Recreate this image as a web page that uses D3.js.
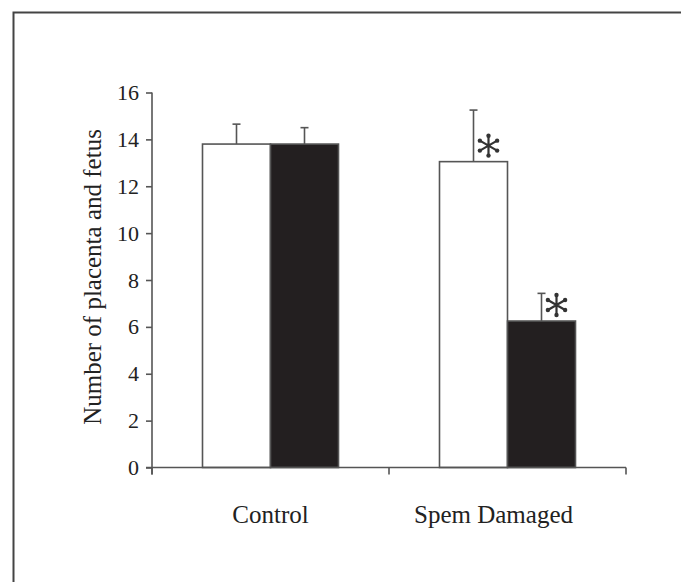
<!DOCTYPE html>
<html>
<head>
<meta charset="utf-8">
<script src="https://cdn.jsdelivr.net/npm/d3@7"></script>
<style>
  html, body { margin: 0; padding: 0; background: #fff; }
  svg { display: block; }
  .axis path, .axis line { stroke: #555; stroke-width: 1.6px; }
  .axis text { font-family: "Liberation Serif", serif; font-size: 22px; fill: #222; }
</style>
</head>
<body>
<div id="chart"></div>
<script>
const categories = ['Control', 'Spem Damaged'];
const seriesKeys = ['white', 'black'];
const whiteValues = [13.8, 13.05];
const whiteErrors = [0.85, 2.2];
const blackValues = [13.8, 6.25];
const blackErrors = [0.7, 1.18];
const significant = [[false, false], [true, true]];
const yTicks = [0, 2, 4, 6, 8, 10, 12, 14, 16];
const yLabel = 'Number of placenta and fetus';

const COLORS = { white: '#fff', black: '#231f20', stroke: '#555', frame: '#444' };

const width = 681, height = 582;
const svg = d3.select('#chart').append('svg')
    .attr('width', width)
    .attr('height', height);

// frame of the original figure panel
svg.append('path')
    .attr('d', 'M13.5,' + height + ' V12.5 H' + width)
    .attr('fill', 'none')
    .attr('stroke', COLORS.frame)
    .attr('stroke-width', 2);

const x = d3.scaleBand()
    .domain(categories)
    .range([152, 626])
    .padding(0);

const barW = 68;
const x1 = d3.scaleBand()
    .domain(seriesKeys)
    .range([x.bandwidth() / 2 - barW, x.bandwidth() / 2 + barW]);

const y = d3.scaleLinear()
    .domain([0, 16])
    .range([467.5, 92.5]);

const rows = categories.map((c, i) => ({
    category: c,
    bars: [
        { key: 'white', value: whiteValues[i], err: whiteErrors[i], sig: significant[i][0] },
        { key: 'black', value: blackValues[i], err: blackErrors[i], sig: significant[i][1] }
    ]
}));

// bars
const groups = svg.selectAll('.group')
    .data(rows)
    .enter()
    .append('g')
    .attr('class', 'group')
    .attr('transform', d => `translate(${x(d.category)},0)`);

const bar = groups.selectAll('.bar')
    .data(d => d.bars)
    .enter()
    .append('g')
    .attr('class', 'bar');

const cx = d => x1(d.key) + x1.bandwidth() / 2;

// error bars behind the bars
bar.append('line')
    .attr('x1', cx)
    .attr('x2', cx)
    .attr('y1', d => y(d.value))
    .attr('y2', d => y(d.value + d.err))
    .attr('stroke', COLORS.stroke)
    .attr('stroke-width', 1.6);

bar.append('line')
    .attr('x1', d => cx(d) - 4)
    .attr('x2', d => cx(d) + 4)
    .attr('y1', d => y(d.value + d.err))
    .attr('y2', d => y(d.value + d.err))
    .attr('stroke', COLORS.stroke)
    .attr('stroke-width', 1.6);

bar.append('rect')
    .attr('x', d => x1(d.key))
    .attr('y', d => y(d.value))
    .attr('width', x1.bandwidth())
    .attr('height', d => y(0) - y(d.value))
    .attr('fill', d => COLORS[d.key])
    .attr('stroke', COLORS.stroke)
    .attr('stroke-width', 1.6);

// significance asterisks
const starSize = 280;
const star = d3.symbol().type(d3.symbolAsterisk).size(starSize);
const sig = bar.filter(d => d.sig)
    .append('g')
    .attr('transform', d => `translate(${cx(d) + 15},${y(d.value) - 16})`);

sig.append('path')
    .attr('d', star)
    .attr('fill', 'none')
    .attr('stroke', '#333')
    .attr('stroke-width', 2.2);

// little knobs at the spoke ends
const r = Math.sqrt(starSize + Math.min(starSize / 28, 0.75)) * 0.59436;
sig.selectAll('circle')
    .data(d3.range(6).map(k => k * Math.PI / 3))
    .enter()
    .append('circle')
    .attr('cx', a => r * Math.sin(a))
    .attr('cy', a => -r * Math.cos(a))
    .attr('r', 2.2)
    .attr('fill', '#333');

// axes
svg.append('g')
    .attr('class', 'axis y')
    .attr('transform', 'translate(152,0)')
    .call(d3.axisLeft(y).tickValues(yTicks).tickSize(6).tickSizeOuter(0).tickPadding(7))
    .call(g => g.select('.domain').attr('d', `M0,${y(16)}V${y(0) + 7}`));

svg.append('g')
    .attr('class', 'axis x')
    .attr('transform', `translate(0,${y(0)})`)
    .call(d3.axisBottom(x).tickValues([]).tickSizeOuter(0))
    .call(g => {
        g.select('.domain').attr('d', 'M146,0H626');
        const edges = [x.range()[0], x(categories[1]), x.range()[1]];
        g.selectAll('.edge')
            .data(edges)
            .enter()
            .append('line')
            .attr('x1', d => d).attr('x2', d => d)
            .attr('y1', 0).attr('y2', 7)
            .attr('stroke', COLORS.stroke)
            .attr('stroke-width', 1.6);
    });

// category labels
svg.selectAll('.cat')
    .data(categories)
    .enter()
    .append('text')
    .attr('class', 'cat')
    .attr('x', (d, i) => x(d) + x.bandwidth() / 2 - (i === 1 ? 14 : 0))
    .attr('y', 523)
    .attr('text-anchor', 'middle')
    .style('font-family', '"Liberation Serif", serif')
    .style('font-size', '25px')
    .style('fill', '#222')
    .text(d => d);

// y axis title
svg.append('text')
    .attr('transform', 'translate(101,277) rotate(-90)')
    .attr('text-anchor', 'middle')
    .style('font-family', '"Liberation Serif", serif')
    .style('font-size', '25px')
    .style('fill', '#222')
    .text(yLabel);
</script>
</body>
</html>
